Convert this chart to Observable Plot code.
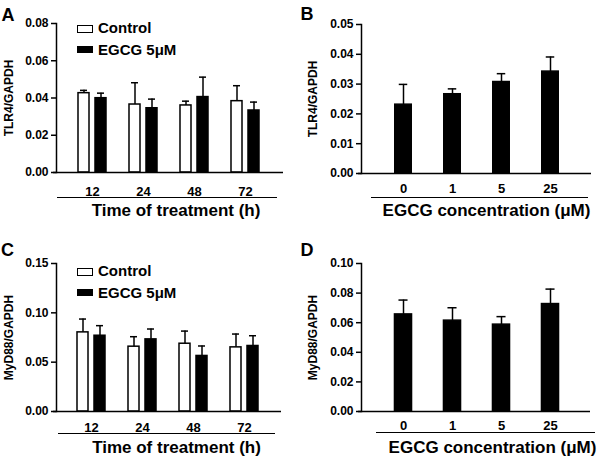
<!DOCTYPE html>
<html>
<head>
<meta charset="utf-8">
<script src="https://cdn.jsdelivr.net/npm/d3@7"></script>
<script src="https://cdn.jsdelivr.net/npm/@observablehq/plot@0.6"></script>
<style>
  body { margin: 0; background: #fff; }
  #root { position: relative; width: 600px; height: 458px; overflow: hidden; background: #fff;
          font-family: "Liberation Sans", Arial, Helvetica, sans-serif; font-weight: bold; color: #000; }
  .panel { position: absolute; }
  .letter { position: absolute; font-size: 18px; line-height: 18px; white-space: nowrap; }
  .legbox { position: absolute; box-sizing: border-box; border: 1.5px solid #000; }
  .legtxt { position: absolute; font-size: 15px; line-height: 15px; white-space: nowrap; }
  .uline { position: absolute; height: 0; border-top: 1.5px solid #000; }
</style>
</head>
<body>
<div id="root"></div>
<script>
// ---------- data ----------
const times = ["12", "24", "48", "72"];
const concentrations = ["0", "1", "5", "25"];
const seriesNames = ["Control", "EGCG 5μM"];
const panelLetters = ["A", "B", "C", "D"];

// Panel A: TLR4/GAPDH vs time
const tlr4Control    = [0.0426, 0.0365, 0.0360, 0.0383];
const tlr4ControlErr = [0.0015, 0.0117, 0.0023, 0.0083];
const tlr4Egcg       = [0.0399, 0.0345, 0.0405, 0.0333];
const tlr4EgcgErr    = [0.0027, 0.0049, 0.0107, 0.0045];

// Panel B: TLR4/GAPDH vs EGCG concentration
const tlr4Conc    = [0.0231, 0.0266, 0.0307, 0.0342];
const tlr4ConcErr = [0.0068, 0.0018, 0.0028, 0.0049];

// Panel C: MyD88/GAPDH vs time
const myd88Control    = [0.0802, 0.0657, 0.0687, 0.0650];
const myd88ControlErr = [0.0135, 0.0101, 0.0128, 0.0135];
const myd88Egcg       = [0.0768, 0.0731, 0.0563, 0.0664];
const myd88EgcgErr    = [0.0102, 0.0105, 0.0101, 0.0104];

// Panel D: MyD88/GAPDH vs EGCG concentration
const myd88Conc    = [0.0656, 0.0614, 0.0587, 0.0726];
const myd88ConcErr = [0.0097, 0.0087, 0.0054, 0.0101];

// axis ticks / labels
const ticksA = [0, 0.02, 0.04, 0.06, 0.08];
const ticksB = [0, 0.01, 0.02, 0.03, 0.04, 0.05];
const ticksC = [0, 0.05, 0.10, 0.15];
const ticksD = [0, 0.02, 0.04, 0.06, 0.08, 0.10];
const yLabelTLR4 = "TLR4/GAPDH";
const yLabelMyD88 = "MyD88/GAPDH";
const xTitleTime = "Time of treatment (h)";
const xTitleConc = "EGCG concentration (μM)";

// ---------- drawing ----------
const FONT = '"Liberation Sans", Arial, Helvetica, sans-serif';
const root = document.getElementById("root");

function rows(cats, vals, errs) {
  return cats.map((c, i) => ({c, v: vals[i], e: errs[i]}));
}

function makePlot(o) {
  const n = o.cats.length;
  const range = o.width - o.ml - o.mr;
  const step = range / (n - o.pi + 2 * o.po);
  const bw = step * (1 - o.pi);
  const marks = [];
  for (const s of o.series) {
    const inB = (bw - s.barW) / 2;
    const inC = (bw - s.capW) / 2;
    marks.push(Plot.barY(s.data, {x: "c", y: "v", fill: s.fill, stroke: "black", strokeWidth: 1.5,
      insetLeft: inB, insetRight: inB, dx: s.shift}));
    marks.push(Plot.ruleX(s.data, {x: "c", y1: "v", y2: d => d.v + d.e, stroke: "black", strokeWidth: 1.5, dx: s.shift}));
    marks.push(Plot.tickY(s.data, {x: "c", y: d => d.v + d.e, stroke: "black", strokeWidth: 1.5,
      insetLeft: inC, insetRight: inC, dx: s.shift}));
  }
  marks.push(Plot.ruleY([0], {stroke: "black", strokeWidth: 1.5, insetLeft: -3}));
  marks.push(Plot.frame({anchor: "left", stroke: "black", strokeWidth: 1.5}));
  marks.push(Plot.axisY({ticks: o.yTicks, tickFormat: d => d.toFixed(2), tickSize: 5, tickPadding: 3,
    fontSize: 12, fontWeight: "bold", strokeWidth: 1.5, label: null}));
  marks.push(Plot.axisX({tickSize: 0, tickPadding: o.xTickPad, fontSize: 13, fontWeight: "bold", label: null}));
  marks.push(Plot.text([o.yLabel], {frameAnchor: "left", textAnchor: "middle", lineAnchor: "middle",
    rotate: -90, dx: o.yLabelDx, fontSize: 12, fontWeight: "bold", fill: "black"}));
  marks.push(Plot.text([o.xTitle], {frameAnchor: "bottom", textAnchor: "middle", lineAnchor: "middle",
    dx: o.xTitleDx, dy: o.xTitleDy, fontSize: 17, fontWeight: "bold", fill: "black"}));
  const svg = Plot.plot({
    width: o.width, height: o.height,
    marginLeft: o.ml, marginRight: o.mr, marginTop: o.mt, marginBottom: o.mb,
    style: {fontFamily: FONT, color: "black", background: "white", overflow: "visible"},
    x: {type: "band", domain: o.cats, paddingInner: o.pi, paddingOuter: o.po, align: o.align},
    y: {domain: [0, o.yMax], nice: false},
    marks
  });
  const wrap = document.createElement("div");
  wrap.className = "panel";
  wrap.style.left = o.left + "px";
  wrap.style.top = o.top + "px";
  wrap.appendChild(svg);
  root.appendChild(wrap);
}

// Panel A
makePlot({left: 0, top: 0, width: 300, height: 229, ml: 56, mr: 17, mt: 23, mb: 57,
  cats: times, pi: 0.413, po: 0.4275, align: 0.474, yMax: 0.08, yTicks: ticksA,
  yLabel: yLabelTLR4, yLabelDx: -47.5, xTitle: xTitleTime, xTitleDx: 6, xTitleDy: 38, xTickPad: 14,
  series: [
    {data: rows(times, tlr4Control, tlr4ControlErr), fill: "white", barW: 11, capW: 7, shift: -8.5},
    {data: rows(times, tlr4Egcg, tlr4EgcgErr), fill: "black", barW: 11, capW: 7, shift: 8.5}
  ]});

// Panel B
makePlot({left: 300, top: 0, width: 300, height: 229, ml: 61, mr: 9, mt: 24, mb: 56,
  cats: concentrations, pi: 0.626, po: 0.636, align: 0.513, yMax: 0.05, yTicks: ticksB,
  yLabel: yLabelTLR4, yLabelDx: -48.5, xTitle: xTitleConc, xTitleDx: 10, xTitleDy: 37.5, xTickPad: 10,
  series: [
    {data: rows(concentrations, tlr4Conc, tlr4ConcErr), fill: "black", barW: 17, capW: 9, shift: 0}
  ]});

// Panel C
makePlot({left: 0, top: 228, width: 300, height: 230, ml: 56, mr: 19, mt: 35, mb: 47,
  cats: times, pi: 0.413, po: 0.408, align: 0.48, yMax: 0.15, yTicks: ticksC,
  yLabel: yLabelMyD88, yLabelDx: -47.5, xTitle: xTitleTime, xTitleDx: 7.5, xTitleDy: 36, xTickPad: 11,
  series: [
    {data: rows(times, myd88Control, myd88ControlErr), fill: "white", barW: 11, capW: 7, shift: -8.5},
    {data: rows(times, myd88Egcg, myd88EgcgErr), fill: "black", barW: 11, capW: 7, shift: 8.5}
  ]});

// Panel D
makePlot({left: 300, top: 228, width: 300, height: 230, ml: 61, mr: 10, mt: 35, mb: 47,
  cats: concentrations, pi: 0.64, po: 0.619, align: 0.514, yMax: 0.10, yTicks: ticksD,
  yLabel: yLabelMyD88, yLabelDx: -48.5, xTitle: xTitleConc, xTitleDx: 16.5, xTitleDy: 36, xTickPad: 9.5,
  series: [
    {data: rows(concentrations, myd88Conc, myd88ConcErr), fill: "black", barW: 17, capW: 9, shift: 0}
  ]});

// ---------- overlays: panel letters, legends, axis-title underlines ----------
function addDiv(cls, css, text) {
  const d = document.createElement("div");
  d.className = cls;
  Object.assign(d.style, css);
  if (text != null) d.textContent = text;
  root.appendChild(d);
  return d;
}
const letterPos = [[1.5, 5.5], [300.5, 4.8], [1, 240.8], [300.6, 240.8]];
panelLetters.forEach((t, i) => addDiv("letter", {left: letterPos[i][0] + "px", top: letterPos[i][1] + "px"}, t));

const legendFills = ["white", "black"];
[[25, 45.7, 20, 42], [268, 288.7, 263, 285]].forEach(([b1, b2, t1, t2]) => {
  [b1, b2].forEach((bt, i) => addDiv("legbox", {left: "77px", top: bt + "px", width: "15.5px", height: "7.5px", background: legendFills[i]}));
  [t1, t2].forEach((tt, i) => addDiv("legtxt", {left: "98px", top: tt + "px"}, seriesNames[i]));
});

[[57, 196.5, 220], [371, 196.5, 217], [58, 432.5, 217], [376, 432, 219]].forEach(([l, t, w]) =>
  addDiv("uline", {left: l + "px", top: t + "px", width: w + "px"}));
</script>
</body>
</html>
